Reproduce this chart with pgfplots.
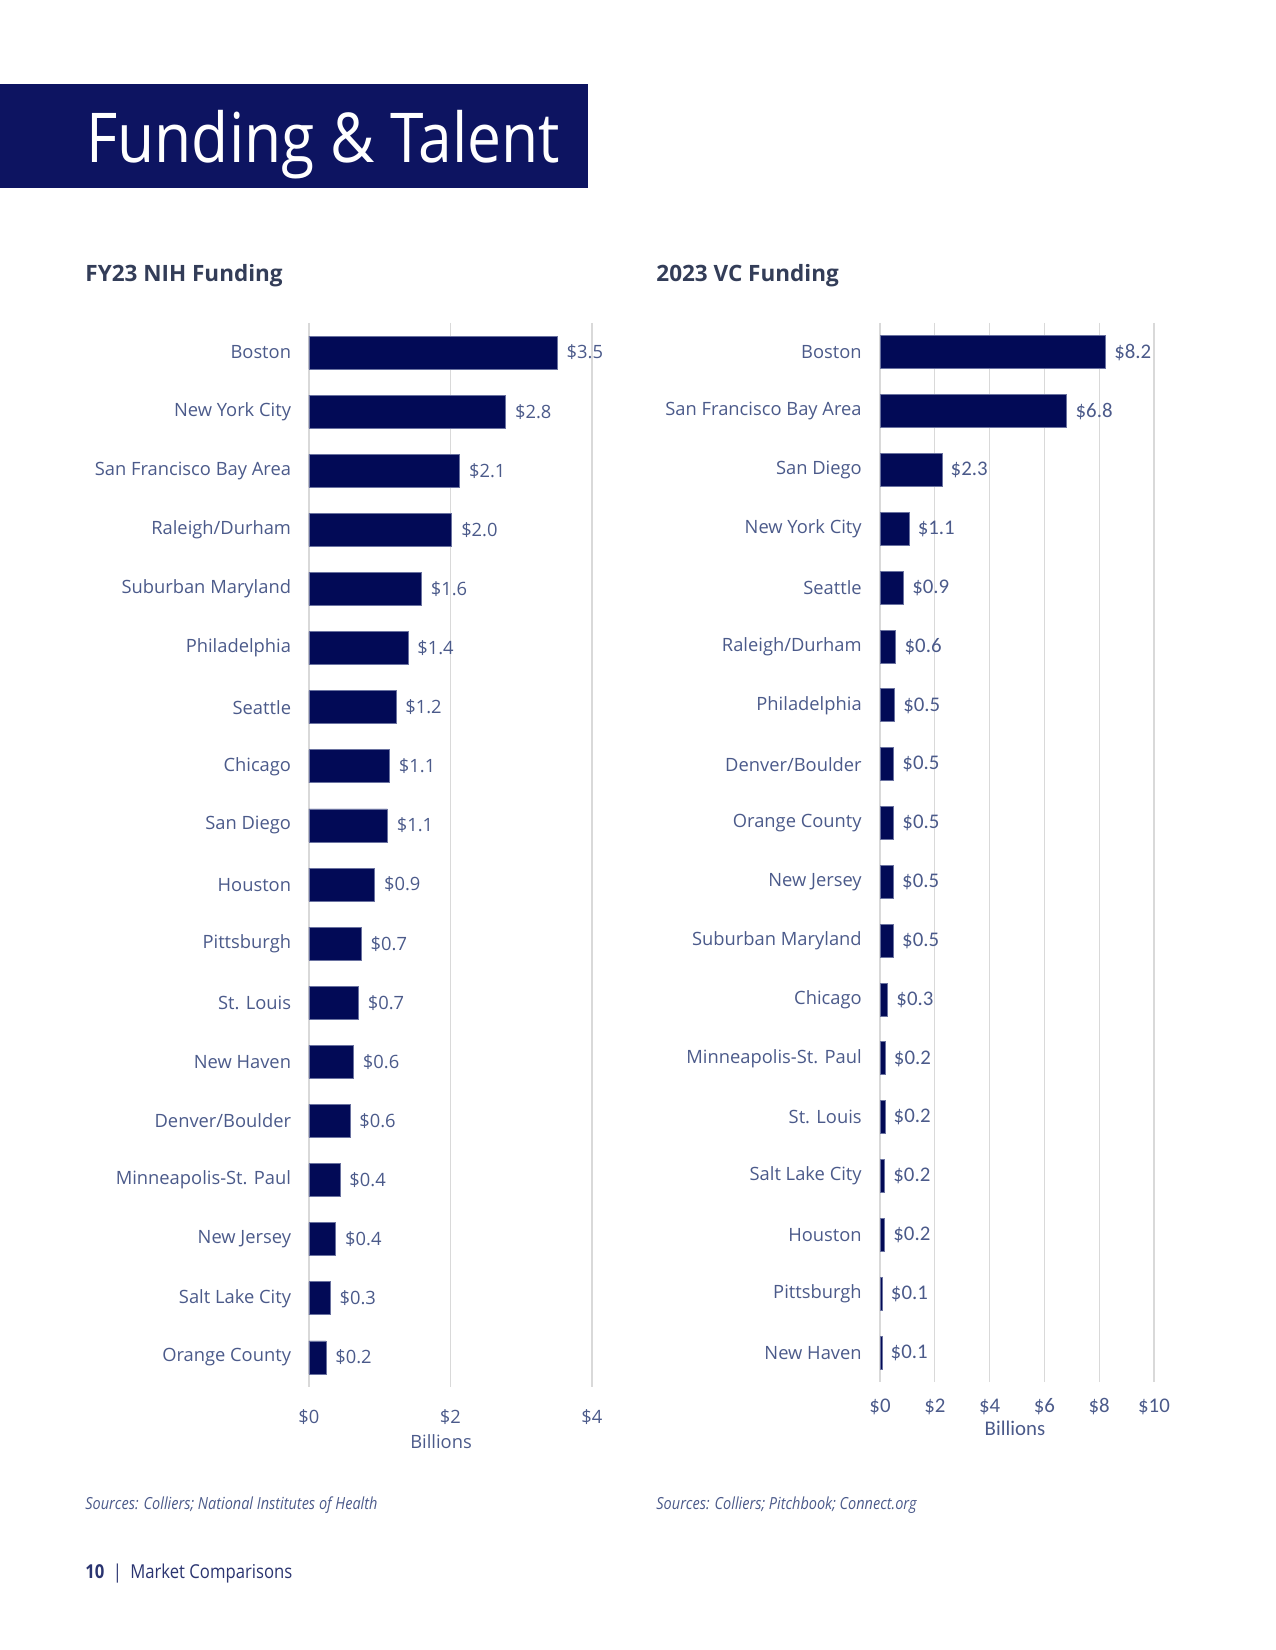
\documentclass[border=0pt]{standalone}
\usepackage{pgfplots}
\pgfplotsset{compat=1.18}
\usepackage{pgfplotstable}
\usepackage{fontspec}
\setmainfont{Open Sans}
\newfontfamily\carlito{Carlito}
\definecolor{bannerc}{HTML}{0D1461}
\definecolor{barc}{HTML}{020A56}
\definecolor{baredge}{HTML}{6A72A0}
\definecolor{labc}{HTML}{4B5A8A}
\definecolor{titc}{HTML}{333D58}
\definecolor{gridc}{HTML}{D9D9D9}
\definecolor{footc}{HTML}{2A3470}

\pgfplotstableread[col sep=comma]{
idx,val,name
0,3.51,Boston
1,2.78,New York City
2,2.13,San Francisco Bay Area
3,2.02,Raleigh/Durham
4,1.59,Suburban Maryland
5,1.40,Philadelphia
6,1.23,Seattle
7,1.14,Chicago
8,1.11,San Diego
9,0.93,Houston
10,0.74,Pittsburgh
11,0.70,St. Louis
12,0.63,New Haven
13,0.58,Denver/Boulder
14,0.44,Minneapolis-St. Paul
15,0.38,New Jersey
16,0.30,Salt Lake City
17,0.24,Orange County
}\nih

\pgfplotstableread[col sep=comma]{
idx,val,name
0,8.23,Boston
1,6.82,San Francisco Bay Area
2,2.26,San Diego
3,1.06,New York City
4,0.86,Seattle
5,0.58,Raleigh/Durham
6,0.53,Philadelphia
7,0.50,Denver/Boulder
8,0.50,Orange County
9,0.49,New Jersey
10,0.49,Suburban Maryland
11,0.28,Chicago
12,0.19,Minneapolis-St. Paul
13,0.18,St. Louis
14,0.17,Salt Lake City
15,0.17,Houston
16,0.08,Pittsburgh
17,0.07,New Haven
}\vc

\begin{document}
\begin{tikzpicture}[x=0.48pt,y=0.48pt]
\useasboundingbox (0,0) rectangle (1275,1650);
% banner
\fill[bannerc] (0,1462) rectangle (588,1566);
\node[anchor=base west, inner sep=0pt, text=white] at (86,1487)
  {\scalebox{0.88}[1]{\fontsize{33}{36}\selectfont Funding \& Talent}};
% chart titles
\node[anchor=west, inner sep=0pt, text=titc] at (85,1374)
  {\fontsize{10.8}{12}\selectfont\bfseries FY23 NIH Funding};
\node[anchor=west, inner sep=0pt, text=titc] at (656,1374)
  {\fontsize{10.8}{12}\selectfont\bfseries 2023 VC Funding};

% left chart
\begin{axis}[
  at={(148.3pt,126.24pt)}, anchor=south west,
  scale only axis, width=135.84pt, height=510.72pt,
  xbar, bar width=15.84pt,
  xmin=0, xmax=4, ymin=-0.5, ymax=17.5, y dir=reverse,
  axis line style={draw=none}, major tick length=0pt,
  xtick={0,2,4}, xmajorgrids, grid style={color=gridc, line width=0.6pt},
  ytick={0,...,17}, yticklabels from table={\nih}{name},
  yticklabel style={font=\fontsize{8.8}{10}\selectfont, text=labc, inner sep=0pt, xshift=-8.4pt},
  xticklabel style={font=\fontsize{8.8}{10}\selectfont, text=labc, inner sep=0pt, anchor=center, yshift=-14.4pt},
  xticklabel={\$\pgfmathprintnumber[assume math mode=true]{\tick}},
  point meta=x,
  nodes near coords={\$\pgfmathprintnumber[fixed,fixed zerofill,precision=1,assume math mode=true]{\pgfplotspointmeta}},
  nodes near coords style={anchor=west, inner sep=0pt, xshift=4.3pt, font=\fontsize{8.8}{10}\selectfont, text=labc},
  clip=false,
]
\addplot[fill=barc, draw=baredge, line width=0.4pt] table[x=val, y=idx] {\nih};
\end{axis}
\node[text=labc, inner sep=0pt] at (441,208) {\fontsize{8.8}{10}\selectfont Billions};

% right chart
\begin{axis}[
  at={(422.4pt,128.64pt)}, anchor=south west,
  scale only axis, width=131.52pt, height=508.32pt,
  xbar, bar width=15.84pt,
  xmin=0, xmax=10, ymin=-0.5, ymax=17.5, y dir=reverse,
  axis line style={draw=none}, major tick length=0pt,
  xtick={0,2,...,10}, xmajorgrids, grid style={color=gridc, line width=0.6pt},
  ytick={0,...,17}, yticklabels from table={\vc}{name},
  yticklabel style={font=\fontsize{8.8}{10}\selectfont, text=labc, inner sep=0pt, xshift=-8.6pt},
  xticklabel style={font=\carlito\fontsize{10}{11}\selectfont, text=labc, inner sep=0pt, anchor=center, yshift=-12pt},
  xticklabel={\$\pgfmathprintnumber[assume math mode=true]{\tick}},
  point meta=x,
  nodes near coords={\$\pgfmathprintnumber[fixed,fixed zerofill,precision=1,assume math mode=true]{\pgfplotspointmeta}},
  nodes near coords style={anchor=west, inner sep=0pt, xshift=4pt, font=\carlito\fontsize{10}{11}\selectfont, text=labc},
  clip=false,
]
\addplot[fill=barc, draw=baredge, line width=0.4pt] table[x=val, y=idx] {\vc};
\end{axis}
\node[text=labc, inner sep=0pt] at (1015,222) {\carlito\fontsize{10}{11}\selectfont Billions};

% sources
\node[anchor=west, inner sep=0pt, text=labc] at (85,145)
  {\scalebox{0.87}[1]{\fontsize{8}{9}\selectfont\itshape Sources: Colliers; National Institutes of Health}};
\node[anchor=west, inner sep=0pt, text=labc] at (656,145)
  {\scalebox{0.87}[1]{\fontsize{8}{9}\selectfont\itshape Sources: Colliers; Pitchbook; Connect.org}};
% footer
\node[anchor=west, inner sep=0pt, text=footc] at (85,76)
  {\scalebox{0.87}[1]{\fontsize{9.2}{10}\selectfont\textbf{10}\enspace|\enspace Market Comparisons}};
\end{tikzpicture}
\end{document}
